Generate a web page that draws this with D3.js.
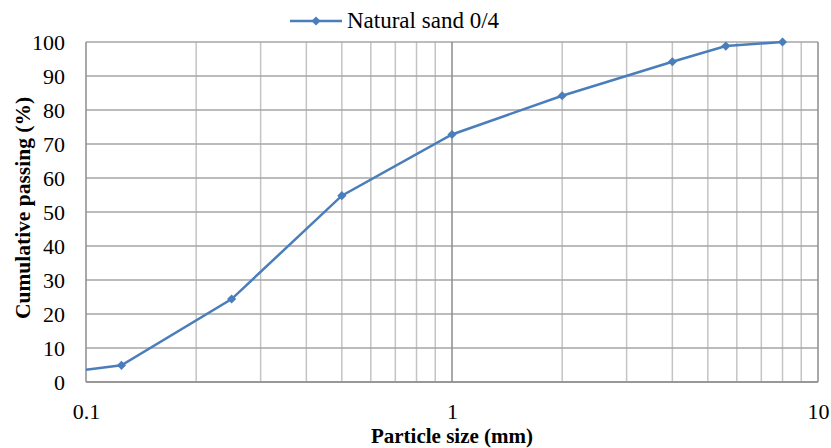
<!DOCTYPE html>
<html><head><meta charset="utf-8">
<script src="https://cdn.jsdelivr.net/npm/d3@7"></script>
<style>body{margin:0;background:#fff}svg{display:block}</style>
</head><body><svg id="c" width="831" height="448"></svg>
<script>
const sizes = [0.063, 0.125, 0.25, 0.5, 1, 2, 4, 5.6, 8];
const passing = [1.0, 4.9, 24.4, 54.8, 72.8, 84.2, 94.2, 98.8, 100];
const yTicks = [0,10,20,30,40,50,60,70,80,90,100];
const xTicks = [0.1, 1, 10];
const seriesName = "Natural sand 0/4";

const FONT = '"Liberation Serif","Times New Roman",serif';
const svg = d3.select("#c");
const L = 86, R = 818, T = 42, B = 382;
const x = d3.scaleLog().domain([0.1, 10]).range([L, R]);
const y = d3.scaleLinear().domain([0, 100]).range([B, T]);

const minor = [];
[0.1, 1].forEach(d => { for (let k = 2; k <= 9; k++) minor.push(+(d*k).toFixed(3)); });
svg.append("g").selectAll("line").data(minor).join("line")
  .attr("x1", d => x(d)).attr("x2", d => x(d)).attr("y1", T).attr("y2", B)
  .attr("stroke", "#c4c4c4").attr("stroke-width", 1.5);
svg.append("g").selectAll("line").data(yTicks).join("line")
  .attr("x1", L).attr("x2", R).attr("y1", d => y(d)).attr("y2", d => y(d))
  .attr("stroke", "#a6a6a6").attr("stroke-width", 1.5);
svg.append("g").selectAll("line").data(xTicks).join("line")
  .attr("x1", d => x(d)).attr("x2", d => x(d)).attr("y1", T).attr("y2", B)
  .attr("stroke", "#8c8c8c").attr("stroke-width", 1.5);
svg.append("line").attr("x1", L).attr("x2", R).attr("y1", B).attr("y2", B).attr("stroke", "#8c8c8c").attr("stroke-width", 1.5);

const yAxis = d3.axisLeft(y).tickValues(yTicks).tickSize(0).tickPadding(21);
const gy = svg.append("g").attr("transform", `translate(${L},0)`).call(yAxis)
  .attr("font-family", FONT).attr("font-size", 22);
gy.select(".domain").remove();
gy.selectAll("text").attr("fill", "#000").attr("dy", "0.35em");

const xAxis = d3.axisBottom(x).tickValues(xTicks).tickFormat(d => String(d)).tickSize(0).tickPadding(21);
const gx = svg.append("g").attr("transform", `translate(0,${B})`).call(xAxis)
  .attr("font-family", FONT).attr("font-size", 22);
gx.select(".domain").remove();
gx.selectAll("text").attr("fill", "#000");

svg.append("clipPath").attr("id", "clip").append("rect").attr("x", L).attr("y", T - 10).attr("width", R - L).attr("height", B - T + 20);

const data = sizes.map((s, i) => ({s, p: passing[i]}));
const line = d3.line().x(d => x(d.s)).y(d => y(d.p));
const color = "#4a7ebb";
svg.append("path").datum(data).attr("d", line).attr("fill", "none")
  .attr("stroke", color).attr("stroke-width", 2.5).attr("clip-path", "url(#clip)");
const diamond = d3.symbol().type(d3.symbolSquare).size(42);
svg.append("g").selectAll("path").data(data.filter(d => d.s >= 0.1)).join("path")
  .attr("d", diamond).attr("transform", d => `translate(${x(d.s)},${y(d.p)}) rotate(45)`).attr("fill", color);

svg.append("line").attr("x1", 290).attr("x2", 342).attr("y1", 21).attr("y2", 21).attr("stroke", color).attr("stroke-width", 2.5);
svg.append("path").attr("d", diamond).attr("transform", "translate(316,21) rotate(45)").attr("fill", color);
svg.append("text").attr("x", 347).attr("y", 28).attr("font-family", FONT).attr("font-size", 23).text(seriesName);

svg.append("text").attr("x", 452).attr("y", 443).attr("text-anchor", "middle")
  .attr("font-family", FONT).attr("font-size", 21).attr("font-weight", "bold").text("Particle size (mm)");
svg.append("text").attr("transform", `translate(30,208) rotate(-90)`).attr("text-anchor", "middle")
  .attr("font-family", FONT).attr("font-size", 21.5).attr("font-weight", "bold").text("Cumulative passing (%)");
</script></body></html>
